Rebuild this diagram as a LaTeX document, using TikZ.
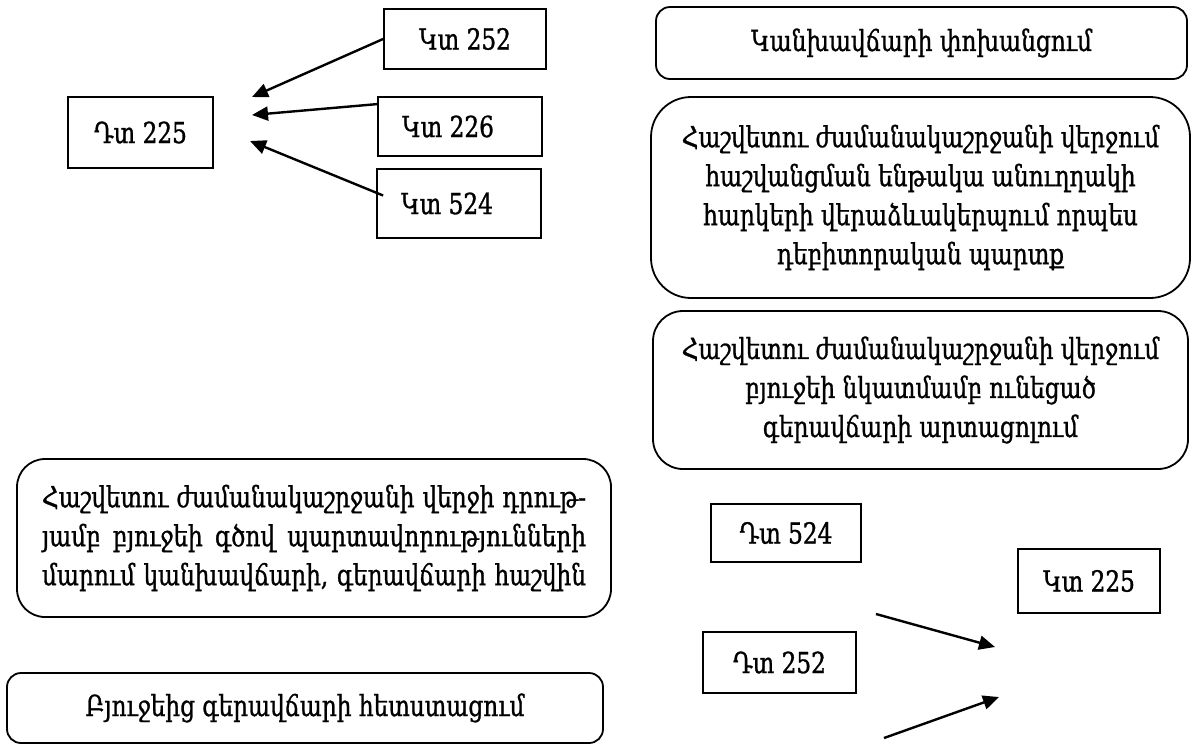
\documentclass[tikz,border=0pt]{standalone}
\usepackage{fontspec}
\setmainfont{DejaVu Serif}[FakeStretch=0.80, FakeBold=1]
\usetikzlibrary{arrows.meta}

\begin{document}
\begin{tikzpicture}[x=0.5pt,y=-0.5pt,
    font=\fontsize{14.5}{19.5}\selectfont,
    acct/.style={draw, line width=0.9pt, inner sep=0pt},
    stage/.style={draw, line width=0.9pt, inner sep=0pt, align=center},
    flow/.style={-{Triangle[length=8pt,width=7pt]}, line width=1.2pt}]
  \useasboundingbox (0,0) rectangle (1192,745);

  % Dt 225 and the three credit accounts
  \node[acct, minimum width=72.5pt, minimum height=35.5pt] (dt225) at (140.5,132.5) {Դտ 225};
  \node[acct, minimum width=81pt, minimum height=30pt]     (kt252) at (465,39)      {Կտ 252};
  \node[acct, minimum width=82pt, minimum height=29.5pt]   (kt226) at (460,126.5)   {Կտ 226\hspace*{12pt}};
  \node[acct, minimum width=82pt, minimum height=34.5pt]   (kt524) at (459,203.5)   {Կտ 524\hspace*{12pt}};
  \coordinate (t1) at (252,97);
  \coordinate (t2) at (252,115);
  \coordinate (t3) at (250,141);
  \draw[flow] (kt252.west) -- (t1);
  \draw[flow] ([yshift=-4pt]kt226.north west) -- (t2);
  \draw[flow] ([shift={(3.5pt,4pt)}]kt524.west) -- (t3);

  % stages on the right
  \node[stage, rounded corners=7pt, minimum width=265.5pt, minimum height=36pt] (avans) at (921.5,43)
    {Կանխավճարի փոխանցում};
  \node[stage, rounded corners=20pt, minimum width=269.5pt, minimum height=100.5pt] (reform) at (920.5,197.5)
    {Հաշվետու ժամանակաշրջանի վերջում\\ հաշվանցման ենթակա անուղղակի\\ հարկերի վերաձևակերպում որպես\\ դեբիտորական պարտք};
  \node[stage, rounded corners=15pt, minimum width=267.5pt, minimum height=79pt] (overpay) at (920.5,390)
    {Հաշվետու ժամանակաշրջանի վերջում\\ բյուջեի նկատմամբ ունեցած\\ գերավճարի արտացոլում};

  % stages on the left
  \node[stage, rounded corners=14pt, minimum width=297pt, minimum height=79pt] (offset) at (314,538)
    {\makebox[272pt][s]{Հաշվետու ժամանակաշրջանի վերջի դրութ-}\\
     \makebox[272pt][s]{յամբ բյուջեի գծով պարտավորությունների}\\
     \makebox[272pt][s]{մարում կանխավճարի, գերավճարի հաշվին}};
  \node[stage, rounded corners=7pt, minimum width=298pt, minimum height=35pt] (refund) at (305,708)
    {Բյուջեից գերավճարի հետստացում};

  % Dt 524, Dt 252 and Kt 225
  \node[acct, minimum width=75pt, minimum height=29pt]   (dt524) at (786,533)    {Դտ 524};
  \node[acct, minimum width=71pt, minimum height=32pt]   (kt225) at (1089,581)   {Կտ 225};
  \node[acct, minimum width=76.5pt, minimum height=30.5pt] (dt252) at (779.5,662.5) {Դտ 252};
  \coordinate (s4) at (876,614);
  \coordinate (t4) at (995,647);
  \coordinate (s5) at (884,738);
  \coordinate (t5) at (999,697);
  \draw[flow] (s4) -- (t4);
  \draw[flow] (s5) -- (t5);
\end{tikzpicture}
\end{document}
